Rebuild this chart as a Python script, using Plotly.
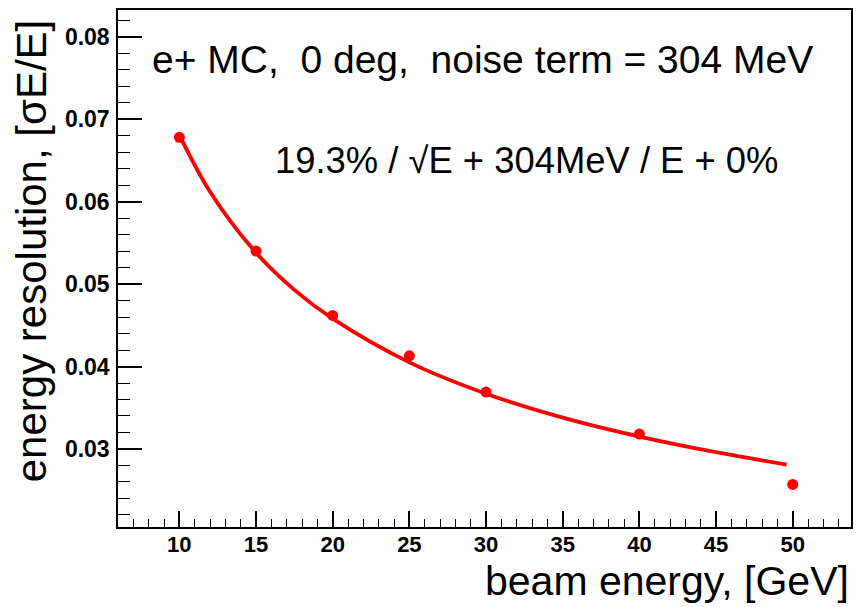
import plotly.graph_objects as go

# Measured data points
beam_energy = [10, 15, 20, 25, 30, 40, 50]
resolution = [0.0678, 0.0540, 0.0462, 0.0413, 0.0369, 0.0318, 0.0257]

# Fit curve
fit_energy = [10, 12, 15, 17.5, 20, 25, 30, 35, 40, 45, 49.6]
fit_resolution = [0.0681, 0.0612, 0.0538, 0.0493, 0.0458, 0.0405, 0.0367, 0.0338, 0.0315, 0.0296, 0.0281]

top_text = "e+ MC,\u00a0\u00a00 deg,\u00a0\u00a0noise term = 304 MeV"
fit_text = "19.3% / \u221aE + 304MeV / E + 0%"
x_title = "beam energy, [GeV]"
y_title = "energy resolution, [\u03c3E/E]"

RED = "#ff0000"
FONT = "Liberation Sans, Arial, sans-serif"

fig = go.Figure()
fig.add_trace(go.Scatter(
    x=fit_energy, y=fit_resolution, mode="lines",
    line=dict(color=RED, width=3.8, shape="spline"),
    showlegend=False, hoverinfo="skip"))
fig.add_trace(go.Scatter(
    x=beam_energy, y=resolution, mode="markers",
    marker=dict(color=RED, size=11, symbol="circle"),
    showlegend=False))

fig.update_layout(
    width=859, height=607,
    margin=dict(l=118, r=6, t=10, b=80),
    paper_bgcolor="white", plot_bgcolor="white",
    font=dict(family=FONT, color="black"),
    xaxis=dict(
        range=[6.0, 53.8], tick0=0, dtick=5,
        ticks="inside", ticklen=16, tickwidth=1.5, tickcolor="black",
        minor=dict(dtick=1, ticks="inside", ticklen=8, tickwidth=1.2, tickcolor="black"),
        showline=True, linecolor="black", linewidth=1.5, mirror=True,
        showgrid=False, zeroline=False,
        tickfont=dict(family=FONT, size=22, weight="bold"),
        ticklabelstandoff=-3,
    ),
    yaxis=dict(
        range=[0.02053, 0.08325], tick0=0, dtick=0.01, tickformat=".2f",
        ticks="inside", ticklen=24, tickwidth=1.5, tickcolor="black",
        minor=dict(dtick=0.002, ticks="inside", ticklen=12, tickwidth=1.2, tickcolor="black"),
        showline=True, linecolor="black", linewidth=1.5, mirror=True,
        showgrid=False, zeroline=False,
        tickfont=dict(family=FONT, size=23, weight="bold"),
        ticklabelstandoff=2,
    ),
    annotations=[
        dict(text=top_text, xref="paper", yref="paper",
             x=(150 - 118) / 735, y=(527 - 59) / 517,
             xanchor="left", yanchor="middle", showarrow=False,
             font=dict(family=FONT, size=39, color="black")),
        dict(text=fit_text, xref="paper", yref="paper",
             x=(273 - 118) / 735, y=(527 - 161) / 517,
             xanchor="left", yanchor="middle", showarrow=False,
             font=dict(family=FONT, size=36.4, color="black")),
        dict(text=x_title, xref="paper", yref="paper",
             x=1.0, y=(527 - 606) / 517,
             xanchor="right", yanchor="bottom", showarrow=False,
             font=dict(family=FONT, size=41, color="black")),
        dict(text=y_title, xref="paper", yref="paper",
             x=(32 - 118) / 735, y=(527 - 251) / 517, textangle=-90,
             xanchor="center", yanchor="middle", showarrow=False,
             font=dict(family=FONT, size=42, color="black")),
    ],
)

fig.write_html("out.html")
